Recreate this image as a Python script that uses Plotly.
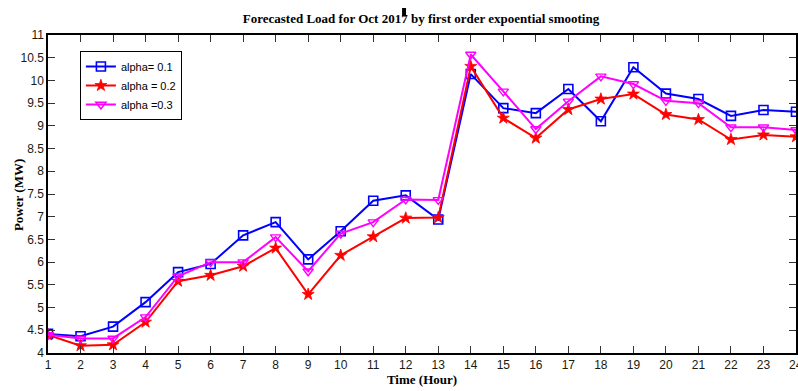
import plotly.graph_objects as go

hours = list(range(1, 25))

alpha_01 = [4.42, 4.37, 4.58, 5.12, 5.78, 5.96, 6.59, 6.88, 6.06, 6.68, 7.35, 7.47,
            6.94, 10.14, 9.39, 9.28, 9.81, 9.10, 10.29, 9.71, 9.59, 9.22, 9.35, 9.31]
alpha_02 = [4.40, 4.16, 4.18, 4.68, 5.58, 5.71, 5.91, 6.31, 5.29, 6.15, 6.56, 6.97,
            6.98, 10.31, 9.17, 8.73, 9.36, 9.59, 9.70, 9.25, 9.14, 8.70, 8.80, 8.76]
alpha_03 = [4.40, 4.32, 4.32, 4.79, 5.69, 6.00, 6.00, 6.55, 5.80, 6.63, 6.88, 7.38,
            7.37, 10.57, 9.76, 8.93, 9.54, 10.09, 9.92, 9.55, 9.50, 8.97, 8.97, 8.91]

series_names = ["alpha= 0.1", "alpha = 0.2", "alpha =0.3"]
y_ticks = [4, 4.5, 5, 5.5, 6, 6.5, 7, 7.5, 8, 8.5, 9, 9.5, 10, 10.5, 11]

fig = go.Figure()
fig.add_trace(go.Scatter(
    x=hours, y=alpha_01, name=series_names[0], mode="lines+markers",
    line=dict(color="#0000ff", width=2),
    marker=dict(symbol="square-open", size=9, color="#0000ff", line=dict(width=1.6)),
))
fig.add_trace(go.Scatter(
    x=hours, y=alpha_02, name=series_names[1], mode="lines+markers",
    line=dict(color="#ff0000", width=2),
    marker=dict(symbol="star", size=9, color="#ff0000", line=dict(width=0.8, color="#ff0000")),
))
fig.add_trace(go.Scatter(
    x=hours, y=alpha_03, name=series_names[2], mode="lines+markers",
    line=dict(color="#ff00ff", width=2),
    marker=dict(symbol="triangle-down-open", size=9, color="#ff00ff", line=dict(width=1.4)),
))

tick_font = dict(family="Liberation Sans Narrow, Arial Narrow, Liberation Sans, sans-serif",
                 size=12, color="#1a1a10")
label_font = dict(family="Liberation Serif, Times New Roman, serif", size=13, color="#000000")

# plot area: x from 48 to 798 px, y from 35 to 353 px
PW, PH, PL, PT = 750, 318, 48, 35

fig.update_layout(
    width=798, height=391,
    margin=dict(l=PL, r=0, t=PT, b=38),
    paper_bgcolor="white", plot_bgcolor="white",
    title=dict(
        text="<b>Forecasted Load for Oct 2017 by first order expoential smooting</b>",
        x=421 / 798, xanchor="center", y=1 - 18 / 391, yanchor="middle",
        font=dict(family="Liberation Serif, Times New Roman, serif", size=13, color="#000000"),
    ),
    legend=dict(
        x=(80 - PL) / PW, xanchor="left", y=1 - (51 - PT) / PH, yanchor="top",
        bgcolor="white", bordercolor="#000000", borderwidth=1,
        font=dict(family="Liberation Sans Narrow, Arial Narrow, Liberation Sans, sans-serif",
                  size=11, color="#000000"),
        tracegroupgap=0, itemwidth=30,
    ),
    showlegend=True,
    annotations=[
        dict(text="<b>Power (MW)</b>", xref="paper", yref="paper",
             x=(18 - PL) / PW, y=(353 - 195) / PH, xanchor="center", yanchor="middle",
             textangle=-90, showarrow=False, font=label_font),
        # last hour label sits on the right edge of the axis
        dict(text=str(hours[-1]), xref="x", yref="paper", x=hours[-1], y=0,
             xanchor="center", yanchor="top", yshift=-3, showarrow=False, font=tick_font),
    ],
)

fig.update_xaxes(
    range=[1, 24], tickmode="array", tickvals=hours, ticktext=[str(h) for h in hours],
    ticks="inside", ticklen=7, tickwidth=1, tickcolor="#333333",
    showline=True, linecolor="#000000", linewidth=1.5, mirror="allticks",
    showgrid=False, zeroline=False, tickfont=tick_font,
    title=dict(text="<b>Time (Hour)</b>", font=label_font, standoff=4),
)
fig.update_yaxes(
    range=[4, 11], tickmode="array", tickvals=y_ticks, ticktext=[f"{v:g}" for v in y_ticks],
    ticks="inside", ticklen=7, tickwidth=1, tickcolor="#333333",
    showline=True, linecolor="#000000", linewidth=1.5, mirror="allticks",
    showgrid=False, zeroline=False, tickfont=tick_font,
)

# small black cursor mark above the year in the title
fig.add_shape(type="rect", xref="paper", yref="paper",
              x0=(403 - PL) / PW, x1=(407 - PL) / PW,
              y0=(353 - 16) / PH, y1=(353 - 8) / PH,
              fillcolor="#000000", line=dict(width=0))

fig.write_html("out.html")
